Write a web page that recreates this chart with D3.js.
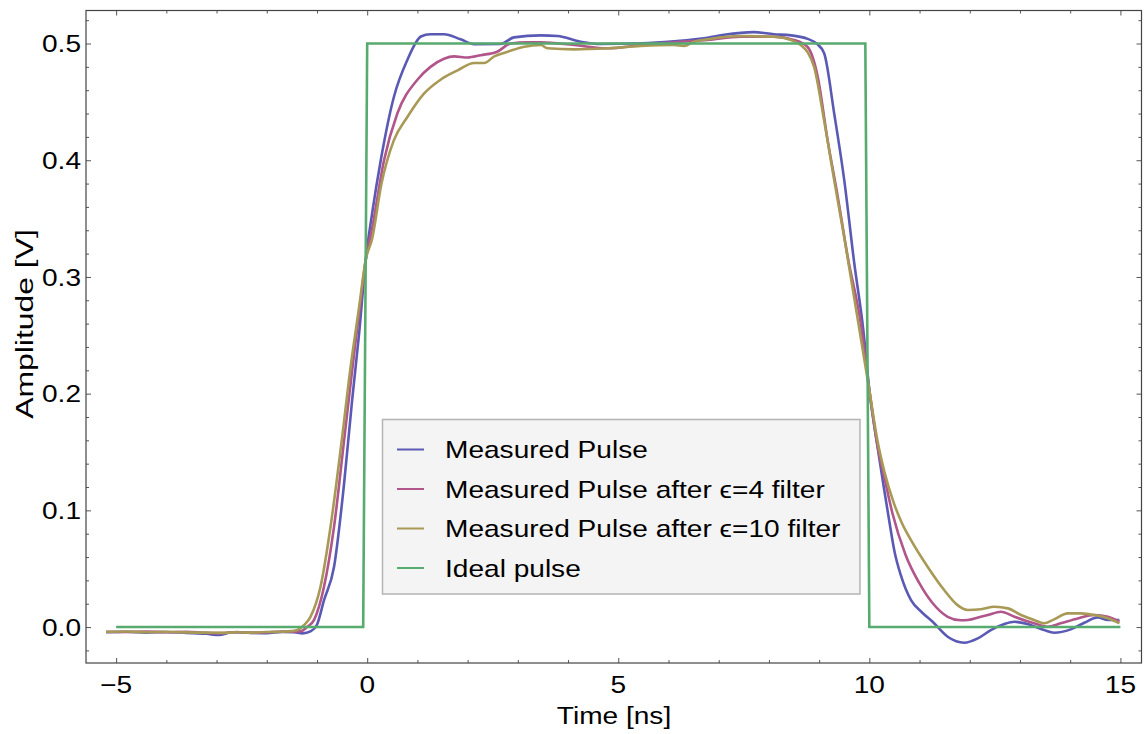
<html>
<head>
<script src="https://d3js.org/d3.v7.min.js"></script>
<style>
  body { margin: 0; background: white; }
  text { font-family: "Liberation Sans", Arial, sans-serif; }
</style>
</head>
<body>
<svg id="chart" width="1146" height="734"></svg>
<script>
// values: [time ns, amplitude V]
const measured = [
  [-5.2,-0.0045],[-4.8,-0.004],[-4.4,-0.0048],[-4.0,-0.0042],[-3.6,-0.005],[-3.2,-0.0058],
  [-2.95,-0.0068],[-2.7,-0.0045],[-2.4,-0.0048],[-2.0,-0.0052],[-1.7,-0.0042],[-1.45,-0.0045],
  [-1.29,-0.0054],[-1.12,-0.0035],[-1.0,0.002],[-0.86,0.023],[-0.66,0.0517],[-0.46,0.123],
  [-0.3,0.1945],[-0.16,0.252],[-0.03,0.3145],[0.1,0.355],[0.27,0.400],[0.53,0.454],[0.8,0.486],
  [1.07,0.506],[1.26,0.508],[1.53,0.508],[1.86,0.5036],[2.13,0.4995],[2.66,0.4996],[2.92,0.5053],
  [3.46,0.507],[3.79,0.5064],[4.25,0.5016],[4.65,0.4996],[5.45,0.5002],[6.11,0.502],[6.78,0.505],
  [7.11,0.5075],[7.7,0.5098],[8.1,0.508],[8.44,0.507],[8.77,0.504],[8.95,0.5],[9.1,0.4916],
  [9.3,0.44],[9.5,0.383],[9.7,0.3117],[9.88,0.2545],[10.0,0.203],[10.15,0.158],[10.28,0.122],
  [10.4,0.090],[10.5,0.065],[10.63,0.044],[10.83,0.023],[11.05,0.0125],[11.25,0.005],
  [11.56,-0.0083],[11.89,-0.0134],[12.16,-0.0097],[12.42,-0.0026],[12.69,0.0026],[12.89,0.0045],
  [13.15,0.0026],[13.48,-0.0026],[13.68,-0.0049],[14.01,-0.002],[14.28,0.0037],[14.55,0.0083],
  [14.75,0.006],[14.98,0.006]
];
const filtered4 = [
  [-5.2,-0.004],[-4.8,-0.0042],[-4.4,-0.0038],[-4.0,-0.0045],[-3.6,-0.004],[-3.2,-0.005],
  [-2.9,-0.0052],[-2.6,-0.0042],[-2.3,-0.005],[-2.0,-0.0045],[-1.7,-0.0038],[-1.5,-0.004],
  [-1.32,-0.0035],[-1.2,0.0],[-1.06,0.006],[-0.86,0.0345],[-0.66,0.086],[-0.46,0.160],
  [-0.26,0.2345],[-0.13,0.280],[-0.03,0.3145],[0.1,0.342],[0.335,0.400],[0.6,0.440],[1.0,0.469],
  [1.26,0.480],[1.53,0.487],[1.73,0.489],[2.0,0.488],[2.26,0.490],[2.59,0.493],[2.86,0.500],
  [3.19,0.501],[3.46,0.501],[4.12,0.4987],[4.79,0.4959],[5.45,0.4987],[6.11,0.5011],[6.78,0.503],
  [7.44,0.5058],[8.1,0.5058],[8.5,0.503],[8.77,0.497],[8.97,0.472],[9.17,0.417],[9.37,0.369],
  [9.57,0.317],[9.83,0.260],[10.0,0.203],[10.16,0.156],[10.31,0.126],[10.46,0.0975],[10.72,0.062],
  [10.99,0.038],[11.25,0.021],[11.56,0.0088],[11.82,0.0058],[11.96,0.006],[12.22,0.0088],
  [12.36,0.0103],[12.62,0.0131],[12.89,0.0088],[13.28,0.0032],[13.55,0.0003],[13.81,0.0032],
  [14.15,0.0074],[14.48,0.0103],[14.75,0.0088],[14.98,0.0045]
];
const filtered10 = [
  [-5.2,-0.0042],[-4.8,-0.0038],[-4.4,-0.0044],[-4.0,-0.004],[-3.6,-0.0046],[-3.2,-0.0048],
  [-2.9,-0.005],[-2.6,-0.0045],[-2.3,-0.0048],[-2.0,-0.0042],[-1.7,-0.004],[-1.5,-0.0035],
  [-1.39,-0.0026],[-1.25,0.002],[-1.13,0.0088],[-0.93,0.0345],[-0.73,0.086],[-0.53,0.1517],
  [-0.33,0.223],[-0.16,0.2745],[-0.03,0.3145],[0.1,0.333],[0.28,0.379],[0.53,0.417],[0.8,0.437],
  [1.13,0.457],[1.46,0.469],[1.8,0.477],[2.13,0.4833],[2.33,0.4833],[2.53,0.489],[2.8,0.493],
  [3.13,0.4973],[3.46,0.4987],[3.59,0.4959],[4.12,0.495],[4.79,0.4959],[5.45,0.4979],[6.11,0.4987],
  [6.31,0.4979],[6.51,0.5016],[6.78,0.5036],[7.44,0.5064],[8.1,0.5058],[8.44,0.503],[8.64,0.4985],
  [8.78,0.492],[8.9,0.480],[9.1,0.434],[9.3,0.383],[9.5,0.334],[9.76,0.266],[10.0,0.203],
  [10.16,0.160],[10.3,0.133],[10.49,0.106],[10.65,0.089],[10.83,0.0745],[11.16,0.0517],
  [11.49,0.0317],[11.75,0.019],[11.96,0.0146],[12.22,0.0152],[12.49,0.0174],[12.76,0.016],
  [13.02,0.0103],[13.28,0.006],[13.48,0.0032],[13.68,0.0066],[13.95,0.0117],[14.21,0.0117],
  [14.48,0.0103],[14.75,0.0075],[14.98,0.0032]
];
const ideal = [[-5,0],[-0.08,0],[0,0.5],[9.92,0.5],[10,0],[15,0]];

const seriesNames = ["Measured Pulse", "Measured Pulse after \u03f5=4 filter",
                     "Measured Pulse after \u03f5=10 filter", "Ideal pulse"];
const seriesColors = ["#5a5ab5", "#b0568a", "#a89a56", "#58ab6f"];
const xMajor = [-5, 0, 5, 10, 15];
const yMajor = [0, 0.1, 0.2, 0.3, 0.4, 0.5];

const svg = d3.select("#chart");
const frame = { left: 86, right: 1141.5, top: 10.5, bottom: 663 };
const stretch = 1.17;   // the reference glyphs are wider than plain Arial

const x = d3.scaleLinear().domain([-5.6, 15.42]).range([frame.left, frame.right]);
const y = d3.scaleLinear().domain([-0.0308, 0.5283]).range([frame.bottom, frame.top]);

const xMinor = d3.range(-5, 16, 1).filter(d => d % 5 !== 0);
const yMinor = d3.range(-0.02, 0.53, 0.02).filter(d => Math.abs(d * 10 - Math.round(d * 10)) > 1e-6);

const fmtX = d => d < 0 ? "\u2212" + Math.abs(d) : String(d);
const fmtY = d3.format(".1f");

function drawAxis(axis, tx, ty) {
  const g = svg.append("g").attr("transform", `translate(${tx},${ty})`).call(axis);
  g.select(".domain").remove();
  g.selectAll(".tick line").attr("stroke", "#555").attr("stroke-width", 1);
  return g;
}

// ticks on all four sides of the frame
drawAxis(d3.axisBottom(x).tickValues(xMajor).tickSize(-5).tickFormat(""), 0, frame.bottom);
drawAxis(d3.axisBottom(x).tickValues(xMinor).tickSize(-3).tickFormat(""), 0, frame.bottom);
drawAxis(d3.axisTop(x).tickValues(xMajor).tickSize(-5).tickFormat(""), 0, frame.top);
drawAxis(d3.axisTop(x).tickValues(xMinor).tickSize(-3).tickFormat(""), 0, frame.top);
drawAxis(d3.axisLeft(y).tickValues(yMajor).tickSize(-5).tickFormat(""), frame.left, 0);
drawAxis(d3.axisLeft(y).tickValues(yMinor).tickSize(-3).tickFormat(""), frame.left, 0);
drawAxis(d3.axisRight(y).tickValues(yMajor).tickSize(-5).tickFormat(""), frame.right, 0);
drawAxis(d3.axisRight(y).tickValues(yMinor).tickSize(-3).tickFormat(""), frame.right, 0);

// tick labels, widened like the reference
svg.append("g").selectAll("text").data(xMajor).join("text")
  .attr("transform", d => `translate(${x(d)},693) scale(${stretch},1)`)
  .attr("text-anchor", "middle").attr("font-size", 24)
  .text(fmtX);
svg.append("g").selectAll("text").data(yMajor).join("text")
  .attr("transform", d => `translate(81,${y(d) + 8.6}) scale(${stretch},1)`)
  .attr("text-anchor", "end").attr("font-size", 24)
  .text(fmtY);

svg.append("rect")
  .attr("x", frame.left).attr("y", frame.top)
  .attr("width", frame.right - frame.left).attr("height", frame.bottom - frame.top)
  .attr("fill", "none").attr("stroke", "#444").attr("stroke-width", 1.2);

svg.append("clipPath").attr("id", "plotclip").append("rect")
  .attr("x", frame.left).attr("y", frame.top)
  .attr("width", frame.right - frame.left).attr("height", frame.bottom - frame.top);

const smooth = d3.line().x(d => x(d[0])).y(d => y(d[1])).curve(d3.curveMonotoneX);
const straight = d3.line().x(d => x(d[0])).y(d => y(d[1]));

const plot = svg.append("g").attr("clip-path", "url(#plotclip)");
[measured, filtered4, filtered10].forEach((s, i) => {
  plot.append("path").datum(s)
    .attr("d", smooth)
    .attr("fill", "none")
    .attr("stroke", seriesColors[i])
    .attr("stroke-width", 2.6)
    .attr("stroke-linejoin", "round");
});
plot.append("path").datum(ideal)
  .attr("d", straight)
  .attr("fill", "none")
  .attr("stroke", seriesColors[3])
  .attr("stroke-width", 2.6);

// axis titles
svg.append("text")
  .attr("transform", `translate(614,724) scale(${stretch},1)`)
  .attr("text-anchor", "middle").attr("font-size", 24)
  .text("Time [ns]");
svg.append("text")
  .attr("transform", "translate(33,324) rotate(-90) scale(1.33,1)")
  .attr("text-anchor", "middle").attr("font-size", 24)
  .text("Amplitude [V]");

// legend
const legend = svg.append("g");
legend.append("rect")
  .attr("x", 382.5).attr("y", 419.5).attr("width", 477.5).attr("height", 174.5)
  .attr("fill", "#f4f4f4").attr("stroke", "#b4b4b4").attr("stroke-width", 1.5);
const rowY = d3.scalePoint().domain(d3.range(seriesNames.length)).range([449.5, 568]);
seriesNames.forEach((name, i) => {
  legend.append("line")
    .attr("x1", 397).attr("x2", 424)
    .attr("y1", rowY(i)).attr("y2", rowY(i))
    .attr("stroke", seriesColors[i]).attr("stroke-width", 2);
  legend.append("text")
    .attr("transform", `translate(445,${rowY(i) + 8.6}) scale(${stretch},1)`)
    .attr("font-size", 24)
    .text(name);
});
</script>
</body>
</html>
